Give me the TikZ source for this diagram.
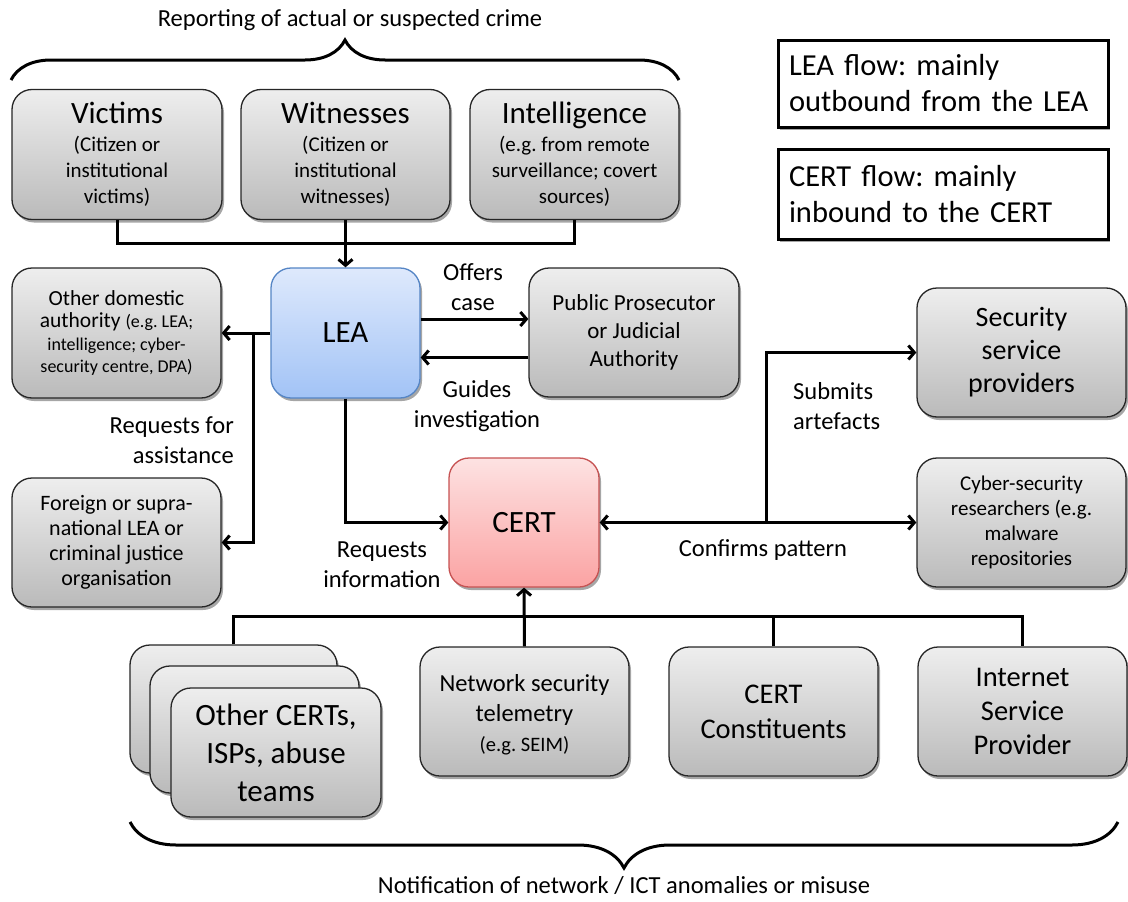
\documentclass[tikz,border=0pt]{standalone}
\usepackage{fontspec}
\setmainfont{Carlito}
\frenchspacing
\usetikzlibrary{arrows.meta,shadows,decorations.pathreplacing}
\definecolor{gtop}{RGB}{238,238,238}
\definecolor{gbot}{RGB}{186,186,186}
\definecolor{btop}{RGB}{222,233,252}
\definecolor{bbot}{RGB}{162,195,246}
\definecolor{bdr}{RGB}{85,133,197}
\definecolor{rtop}{RGB}{253,226,226}
\definecolor{rbot}{RGB}{251,163,163}
\definecolor{rdr}{RGB}{198,82,82}
\tikzset{
  shad/.style={drop shadow={shadow xshift=2pt,shadow yshift=-3pt,fill=black,opacity=0.35}},
  gbox/.style={draw=black!85,line width=1.3pt,rounded corners=20pt,top color=gtop,bottom color=gbot,shad,align=center,inner sep=0pt},
  leabox/.style={draw=bdr,line width=1.3pt,rounded corners=20pt,top color=btop,bottom color=bbot,shad,align=center,inner sep=0pt},
  certbox/.style={draw=rdr,line width=1.3pt,rounded corners=20pt,top color=rtop,bottom color=rbot,shad,align=center,inner sep=0pt},
  legbox/.style={draw=black,line width=3pt,fill=white,shad,align=left,inner xsep=11pt,inner ysep=0pt,text width=308pt,minimum height=#1,font=\fontsize{30.5}{36}\selectfont},
  lbl/.style={align=center,inner sep=0pt,font=\fontsize{24.5}{30}\selectfont},
  ln/.style={line width=3pt},
  arr/.style={line width=3pt,-{Straight Barb[length=6pt,width=14pt]}},
  brc/.style={line width=3pt,decorate,decoration={brace,amplitude=#1}},
  sz/.style 2 args={minimum width=#1,minimum height=#2}
}
\begin{document}
\begin{tikzpicture}[x=1pt,y=-1pt]
\useasboundingbox (0,0) rectangle (1128,902);
% top row
\node[gbox,sz={210pt}{130pt},font=\fontsize{21}{26}\selectfont] (vic) at (117,154.5)
  {{\fontsize{31}{30}\selectfont Victims}\\[2pt](Citizen or\\institutional\\victims)};
\node[gbox,sz={209pt}{130pt},font=\fontsize{21}{26}\selectfont] (wit) at (345.5,154.5)
  {{\fontsize{31}{30}\selectfont Witnesses}\\[2pt](Citizen or\\institutional\\witnesses)};
\node[gbox,sz={209pt}{130pt},font=\fontsize{21}{26}\selectfont] (int) at (574.5,154.5)
  {{\fontsize{31}{30}\selectfont Intelligence}\\[2pt](e.g. from remote\\surveillance; covert\\sources)};
% middle
\node[gbox,sz={209pt}{130pt},font=\fontsize{21.5}{22.5}\selectfont] (dom) at (116.5,333)
  {Other domestic\\authority {\fontsize{18}{22.5}\selectfont (e.g. LEA;}\\{\fontsize{18}{22.5}\selectfont intelligence; cyber-}\\{\fontsize{18}{22.5}\selectfont security centre, DPA)}};
\node[leabox,sz={149pt}{130pt},font=\fontsize{31}{36}\selectfont] (lea) at (345.5,333) {LEA};
\node[gbox,sz={210pt}{129pt},font=\fontsize{23}{28}\selectfont] (pro) at (634,332.5)
  {Public Prosecutor\\or Judicial\\Authority};
\node[gbox,sz={209pt}{129pt},font=\fontsize{22}{25}\selectfont] (for) at (116.5,542.5)
  {Foreign or supra-\\national LEA or\\criminal justice\\organisation};
\node[certbox,sz={150pt}{129pt},font=\fontsize{31}{36}\selectfont] (cert) at (524,522.5) {CERT};
\node[gbox,sz={209pt}{129pt},font=\fontsize{28}{33}\selectfont] (sec) at (1021.5,352.5)
  {Security\\service\\providers};
\node[gbox,sz={209pt}{129pt},font=\fontsize{21}{25}\selectfont] (cyb) at (1021.5,522.5)
  {Cyber-security\\researchers (e.g.\\malware\\repositories};
% bottom row
\node[gbox,sz={207pt}{128pt}] (back) at (233.5,709) {};
\node[gbox,sz={209pt}{127pt}] (mid) at (254.5,729.5) {};
\node[gbox,sz={210pt}{129pt},font=\fontsize{31}{38}\selectfont] (oth) at (276,752.5)
  {Other CERTs,\\ISPs, abuse\\teams};
\node[gbox,sz={209pt}{129pt},font=\fontsize{24.5}{30}\selectfont] (net) at (524.5,711.5)
  {\\[-6pt]Network security\\telemetry\\{\fontsize{20.5}{27}\selectfont (e.g. SEIM)}};
\node[gbox,sz={209pt}{129pt},font=\fontsize{28.5}{35}\selectfont] (con) at (773.5,711.5)
  {CERT\\Constituents};
\node[gbox,sz={209pt}{129pt},font=\fontsize{28.5}{34}\selectfont] (isp) at (1022.5,711.5)
  {Internet\\Service\\Provider};
% legend
\node[legbox=87pt] (leg1) at (943,83.5) {LEA flow: mainly\\outbound from the LEA};
\node[legbox=90pt] (leg2) at (943,194) {CERT flow: mainly\\inbound to the CERT};
% labels
\node[lbl,font=\fontsize{24.5}{29}\selectfont] (toplbl) at (350,20) {Reporting of actual or suspected crime};
\node[lbl,font=\fontsize{24.5}{29}\selectfont] (botlbl) at (624,886) {Notification of network / ICT anomalies or misuse};
\node[lbl] (offers) at (473,287) {Offers\\case};
\node[lbl] (guides) at (477,406) {Guides\\investigation};
\node[lbl,align=right,anchor=east] (reqa) at (234,440) {Requests for\\assistance};
\node[lbl] (reqi) at (382,565) {Requests\\information};
\node[lbl,align=left,anchor=west] (subm) at (793,406) {Submits\\artefacts};
\node[lbl] (conf) at (763,550) {Confirms pattern};
% braces
\draw[brc=40pt] (11,80) -- (679,80);
\draw[brc=46pt] (1118,822) -- (130,822);
% coordinates
\coordinate (topbus) at (346,243);
\coordinate (j1) at (253,333);
\coordinate (j2) at (766,522.5);
\coordinate (bus) at (525,616);
% connectors top
\draw[ln] (vic.south) |- (topbus) -| (int.south);
\draw[arr] (wit.south) -- (lea.north);
% LEA side
\draw[arr] (lea.west) -- (dom.east);
\draw[arr] (j1) |- (for.east);
\draw[arr] ([yshift=14pt]lea.east) -- ([yshift=14pt]lea.east -| pro.west);
\draw[arr] ([yshift=-25pt]pro.west) -- ([yshift=-25pt]pro.west -| lea.east);
\draw[arr] (lea.south) |- (cert.west);
% CERT side
\draw[arr] (j2) -- (cert.east);
\draw[arr] (j2) -- (cyb.west);
\draw[arr] (j2) |- (sec.west);
% bottom bus
\draw[ln] (back.north) |- (bus) -| (isp.north);
\draw[ln] (con.north) -- (con.north |- bus);
\draw[arr] (net.north) -- (cert.south);
\end{tikzpicture}
\end{document}
